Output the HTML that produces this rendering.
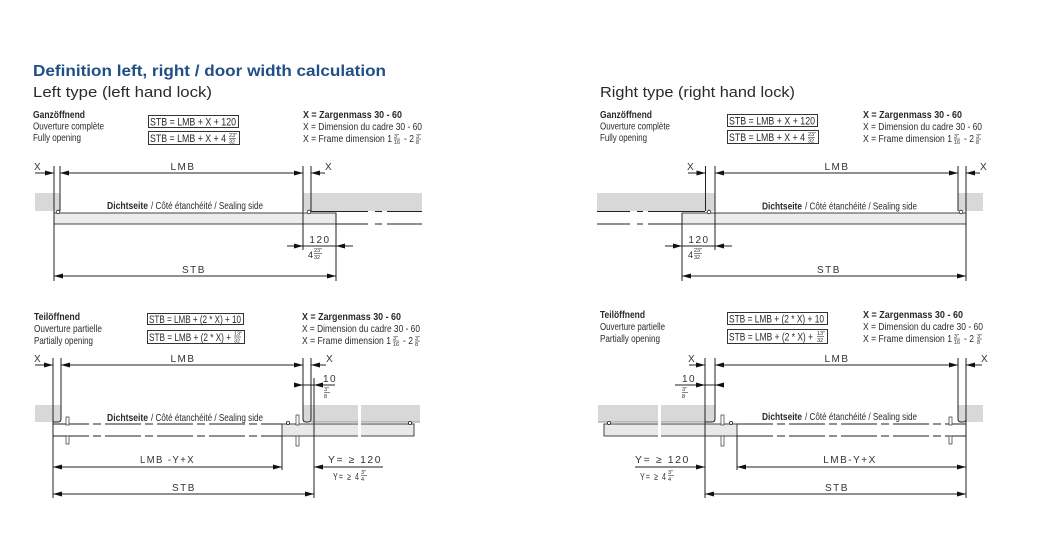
<!DOCTYPE html>
<html><head><meta charset="utf-8"><style>
html,body{margin:0;padding:0;background:#fff;}
svg{display:block;}
text{font-family:"Liberation Sans",Arial,sans-serif;fill:#2a2a2a;}
.s{font-size:10.5px;}
.b{font-weight:bold;}
.f{font-size:11px;}
.d{font-size:10px;letter-spacing:1.5px;fill:#333;}
.fr{font-size:5.5px;}
.ln line,.ln path,.ln polyline{stroke:#222;stroke-width:1;fill:none;}
.ar polygon{fill:#111;stroke:none;}
</style></head><body>
<svg width="1042" height="543" viewBox="0 0 1042 543" xmlns="http://www.w3.org/2000/svg">
<rect width="1042" height="543" fill="#fff"/>

<!-- ===== Headings ===== -->
<text x="33" y="76" font-size="16" font-weight="bold" style="fill:#1f4f86" textLength="353" lengthAdjust="spacingAndGlyphs">Definition left, right / door width calculation</text>
<text x="33" y="97" font-size="15" textLength="179" lengthAdjust="spacingAndGlyphs">Left type (left hand lock)</text>
<text x="600" y="97" font-size="15" textLength="195" lengthAdjust="spacingAndGlyphs">Right type (right hand lock)</text>

<!-- ===== TOP LEFT texts ===== -->
<text class="s b" x="33" y="118" textLength="52" lengthAdjust="spacingAndGlyphs">Ganzöffnend</text>
<text class="s" x="33" y="129.5" textLength="71" lengthAdjust="spacingAndGlyphs">Ouverture complète</text>
<text class="s" x="33" y="141" textLength="48" lengthAdjust="spacingAndGlyphs">Fully opening</text>
<rect x="148.5" y="115.5" width="90" height="12" fill="none" stroke="#333"/>
<text class="f" x="150" y="125.5" textLength="86" lengthAdjust="spacingAndGlyphs">STB = LMB + X + 120</text>
<rect x="148.5" y="131.5" width="91" height="13" fill="none" stroke="#333"/>
<text class="f" x="150" y="142" textLength="76" lengthAdjust="spacingAndGlyphs">STB = LMB + X + 4</text>
<text class="fr" x="229" y="137">23"</text><line x1="229" y1="138.5" x2="236" y2="138.5" stroke="#333" stroke-width="0.6"/><text class="fr" x="229" y="143.5">32</text>
<text class="s b" x="303" y="118" textLength="99" lengthAdjust="spacingAndGlyphs">X = Zargenmass 30 - 60</text>
<text class="s" x="303" y="130" textLength="119" lengthAdjust="spacingAndGlyphs">X = Dimension du cadre 30 - 60</text>
<text class="s" x="303" y="142" textLength="89" lengthAdjust="spacingAndGlyphs">X = Frame dimension 1</text>
<text class="fr" x="394" y="138">3"</text><line x1="394" y1="139" x2="400" y2="139" stroke="#333" stroke-width="0.6"/><text class="fr" x="394" y="144">16</text>
<text class="s" x="404" y="142" textLength="10" lengthAdjust="spacingAndGlyphs">- 2</text>
<text class="fr" x="416" y="138">3"</text><line x1="416" y1="139" x2="421" y2="139" stroke="#333" stroke-width="0.6"/><text class="fr" x="416" y="144">8</text>

<!-- ===== TOP LEFT diagram ===== -->
<rect x="35" y="193" width="25" height="18" fill="#d8d8d8"/>
<rect x="303" y="193" width="119" height="18" fill="#d8d8d8"/>
<rect x="54" y="213" width="282" height="11" fill="#ececec" stroke="#333" stroke-width="0.9"/>
<g class="ln">
<line x1="35" y1="173" x2="54" y2="173"/>
<line x1="60" y1="173" x2="303" y2="173"/>
<line x1="311" y1="173" x2="325" y2="173"/>
<line x1="54" y1="166" x2="54" y2="281"/>
<line x1="60" y1="166" x2="60" y2="211"/>
<line x1="303" y1="166" x2="303" y2="250"/>
<line x1="311" y1="166" x2="311" y2="211"/>
<line x1="336" y1="213" x2="336" y2="281"/>
<path d="M311 211.5H368M375 211.5H382M387 211.5H422" />
<path d="M336 224H368M375 224H382M387 224H422" />
<line x1="287" y1="246" x2="353" y2="246"/>
<line x1="54" y1="276" x2="336" y2="276"/>
</g>
<circle cx="58" cy="212" r="1.8" fill="#fff" stroke="#222" stroke-width="0.8"/>
<circle cx="309" cy="212" r="1.8" fill="#fff" stroke="#222" stroke-width="0.8"/>
<g class="ar">
<polygon points="54,173 45,170.5 45,175.5"/><polygon points="60,173 69,170.5 69,175.5"/>
<polygon points="303,173 294,170.5 294,175.5"/><polygon points="311,173 320,170.5 320,175.5"/>
<polygon points="303,246 294,243.5 294,248.5"/><polygon points="336,246 345,243.5 345,248.5"/>
<polygon points="54,276 63,273.5 63,278.5"/><polygon points="336,276 327,273.5 327,278.5"/>
</g>
<text class="d" x="34" y="170">X</text>
<text class="d" x="325" y="170">X</text>
<text class="d" x="183" y="170" text-anchor="middle">LMB</text>
<text class="s b" x="107" y="209" textLength="41" lengthAdjust="spacingAndGlyphs">Dichtseite</text>
<text class="s" x="151" y="209" textLength="112" lengthAdjust="spacingAndGlyphs">/ Côté étanchéité / Sealing side</text>
<text class="d" x="320" y="243" text-anchor="middle">120</text>
<text font-size="9" x="308" y="258">4</text><text class="fr" x="314" y="252">23"</text><line x1="314" y1="253.5" x2="322" y2="253.5" stroke="#333" stroke-width="0.6"/><text class="fr" x="314" y="259">32</text>
<text class="d" x="194" y="273" text-anchor="middle">STB</text>

<!-- ===== TOP RIGHT texts ===== -->
<text class="s b" x="600" y="118" textLength="52" lengthAdjust="spacingAndGlyphs">Ganzöffnend</text>
<text class="s" x="600" y="129.5" textLength="70" lengthAdjust="spacingAndGlyphs">Ouverture complète</text>
<text class="s" x="600" y="141" textLength="47" lengthAdjust="spacingAndGlyphs">Fully opening</text>
<rect x="727.5" y="114.5" width="90" height="12" fill="none" stroke="#333"/>
<text class="f" x="729" y="124.5" textLength="86" lengthAdjust="spacingAndGlyphs">STB = LMB + X + 120</text>
<rect x="727.5" y="130.5" width="91" height="13" fill="none" stroke="#333"/>
<text class="f" x="729" y="141" textLength="76" lengthAdjust="spacingAndGlyphs">STB = LMB + X + 4</text>
<text class="fr" x="808" y="136">23"</text><line x1="808" y1="137.5" x2="815" y2="137.5" stroke="#333" stroke-width="0.6"/><text class="fr" x="808" y="142.5">32</text>
<text class="s b" x="863" y="118" textLength="99" lengthAdjust="spacingAndGlyphs">X = Zargenmass 30 - 60</text>
<text class="s" x="863" y="130" textLength="119" lengthAdjust="spacingAndGlyphs">X = Dimension du cadre 30 - 60</text>
<text class="s" x="863" y="142" textLength="89" lengthAdjust="spacingAndGlyphs">X = Frame dimension 1</text>
<text class="fr" x="954" y="138">3"</text><line x1="954" y1="139" x2="960" y2="139" stroke="#333" stroke-width="0.6"/><text class="fr" x="954" y="144">16</text>
<text class="s" x="964" y="142" textLength="10" lengthAdjust="spacingAndGlyphs">- 2</text>
<text class="fr" x="976" y="138">3"</text><line x1="976" y1="139" x2="981" y2="139" stroke="#333" stroke-width="0.6"/><text class="fr" x="976" y="144">8</text>

<!-- ===== TOP RIGHT diagram ===== -->
<rect x="597" y="193" width="118" height="18" fill="#d8d8d8"/>
<rect x="958" y="193" width="25" height="18" fill="#d8d8d8"/>
<rect x="682" y="213" width="284" height="11" fill="#ececec" stroke="#333" stroke-width="0.9"/>
<g class="ln">
<line x1="688" y1="173" x2="705.5" y2="173"/>
<line x1="715" y1="173" x2="958" y2="173"/>
<line x1="966" y1="173" x2="980" y2="173"/>
<line x1="705.5" y1="166" x2="705.5" y2="211"/>
<line x1="715" y1="166" x2="715" y2="250"/>
<line x1="958" y1="166" x2="958" y2="211"/>
<line x1="966" y1="166" x2="966" y2="281"/>
<line x1="682" y1="213" x2="682" y2="281"/>
<path d="M597 211.5H630M637 211.5H643M648 211.5H705" />
<path d="M597 224H630M637 224H643M648 224H682" />
<line x1="665" y1="246" x2="732" y2="246"/>
<line x1="682" y1="276" x2="966" y2="276"/>
</g>
<circle cx="709" cy="212" r="1.8" fill="#fff" stroke="#222" stroke-width="0.8"/>
<circle cx="961" cy="212" r="1.8" fill="#fff" stroke="#222" stroke-width="0.8"/>
<g class="ar">
<polygon points="705.5,173 696.5,170.5 696.5,175.5"/><polygon points="715,173 724,170.5 724,175.5"/>
<polygon points="958,173 949,170.5 949,175.5"/><polygon points="966,173 975,170.5 975,175.5"/>
<polygon points="682,246 673,243.5 673,248.5"/><polygon points="715,246 724,243.5 724,248.5"/>
<polygon points="682,276 691,273.5 691,278.5"/><polygon points="966,276 957,273.5 957,278.5"/>
</g>
<text class="d" x="687" y="170">X</text>
<text class="d" x="980" y="170">X</text>
<text class="d" x="837" y="170" text-anchor="middle">LMB</text>
<text class="s b" x="762" y="209.5" textLength="40" lengthAdjust="spacingAndGlyphs">Dichtseite</text>
<text class="s" x="805" y="209.5" textLength="112" lengthAdjust="spacingAndGlyphs">/ Côté étanchéité / Sealing side</text>
<text class="d" x="699" y="243" text-anchor="middle">120</text>
<text font-size="9" x="688" y="258">4</text><text class="fr" x="694" y="252">23"</text><line x1="694" y1="253.5" x2="702" y2="253.5" stroke="#333" stroke-width="0.6"/><text class="fr" x="694" y="259">32</text>
<text class="d" x="829" y="273" text-anchor="middle">STB</text>

<!-- ===== BOTTOM LEFT texts ===== -->
<text class="s b" x="34" y="320" textLength="46" lengthAdjust="spacingAndGlyphs">Teilöffnend</text>
<text class="s" x="34" y="332" textLength="68" lengthAdjust="spacingAndGlyphs">Ouverture partielle</text>
<text class="s" x="34" y="344" textLength="59" lengthAdjust="spacingAndGlyphs">Partially opening</text>
<rect x="147.5" y="313.5" width="96" height="11" fill="none" stroke="#333"/>
<text class="f" x="149" y="323" textLength="92" lengthAdjust="spacingAndGlyphs">STB = LMB + (2 * X) + 10</text>
<rect x="147.5" y="330.5" width="97" height="13" fill="none" stroke="#333"/>
<text class="f" x="149" y="341" textLength="82" lengthAdjust="spacingAndGlyphs">STB = LMB + (2 * X) +</text>
<text class="fr" x="234" y="335.5">13"</text><line x1="234" y1="337" x2="241" y2="337" stroke="#333" stroke-width="0.6"/><text class="fr" x="234" y="342.5">32</text>
<text class="s b" x="302" y="320" textLength="99" lengthAdjust="spacingAndGlyphs">X = Zargenmass 30 - 60</text>
<text class="s" x="302" y="332" textLength="118" lengthAdjust="spacingAndGlyphs">X = Dimension du cadre 30 - 60</text>
<text class="s" x="302" y="344" textLength="89" lengthAdjust="spacingAndGlyphs">X = Frame dimension 1</text>
<text class="fr" x="393" y="340">3"</text><line x1="393" y1="341" x2="399" y2="341" stroke="#333" stroke-width="0.6"/><text class="fr" x="393" y="346">16</text>
<text class="s" x="403" y="344" textLength="10" lengthAdjust="spacingAndGlyphs">- 2</text>
<text class="fr" x="415" y="340">3"</text><line x1="415" y1="341" x2="420" y2="341" stroke="#333" stroke-width="0.6"/><text class="fr" x="415" y="346">8</text>

<!-- ===== BOTTOM LEFT diagram ===== -->
<rect x="35" y="405" width="26" height="17" fill="#d8d8d8"/>
<rect x="303" y="405" width="55" height="17" fill="#d8d8d8"/>
<rect x="361" y="405" width="59" height="17" fill="#d8d8d8"/>
<line x1="311" y1="422" x2="420" y2="422" stroke="#999" stroke-width="1"/>
<rect x="282" y="424" width="132" height="12" fill="#e9e9e9" stroke="#333" stroke-width="0.9"/>
<rect x="358" y="403" width="3" height="40" fill="#fff"/>
<g class="ln">
<line x1="35" y1="365" x2="53" y2="365"/>
<line x1="61" y1="365" x2="303" y2="365"/>
<line x1="311" y1="365" x2="326" y2="365"/>
<path d="M53 358V498"/>
<path d="M61 358V419Q61 422 58 422H53"/>
<path d="M303 358V419Q303 422 306 422H308Q311 422 311 419V358"/>
<line x1="314" y1="378" x2="314" y2="498"/>
<line x1="295" y1="385" x2="335" y2="385"/>
<line x1="53" y1="424" x2="282" y2="424" stroke-dasharray="36 4 8 4"/>
<line x1="53" y1="436" x2="282" y2="436" stroke-dasharray="36 4 8 4"/>
<line x1="282" y1="436" x2="282" y2="470"/>
<line x1="53" y1="467" x2="282" y2="467"/>
<line x1="314" y1="467" x2="383" y2="467"/>
<line x1="53" y1="494" x2="314" y2="494"/>
</g>
<rect x="66" y="417" width="3" height="8" fill="#fff" stroke="#333" stroke-width="0.7"/>
<rect x="66" y="436" width="3" height="8" fill="#fff" stroke="#333" stroke-width="0.7"/>
<rect x="296" y="415" width="3" height="10" fill="#fff" stroke="#333" stroke-width="0.7"/>
<rect x="296" y="436" width="3" height="10" fill="#fff" stroke="#333" stroke-width="0.7"/>
<circle cx="288" cy="423" r="1.6" fill="#fff" stroke="#222" stroke-width="0.8"/>
<circle cx="410" cy="423" r="1.6" fill="#fff" stroke="#222" stroke-width="0.8"/>
<g class="ar">
<polygon points="53,365 44,362.5 44,367.5"/><polygon points="61,365 70,362.5 70,367.5"/>
<polygon points="303,365 294,362.5 294,367.5"/><polygon points="311,365 320,362.5 320,367.5"/>
<polygon points="303,385 294,382.5 294,387.5"/><polygon points="314,385 323,382.5 323,387.5"/>
<polygon points="53,467 62,464.5 62,469.5"/><polygon points="282,467 273,464.5 273,469.5"/>
<polygon points="314,467 323,464.5 323,469.5"/>
<polygon points="53,494 62,491.5 62,496.5"/><polygon points="314,494 305,491.5 305,496.5"/>
</g>
<text class="d" x="34" y="362">X</text>
<text class="d" x="326" y="362">X</text>
<text class="d" x="183" y="362" text-anchor="middle">LMB</text>
<text class="d" x="323" y="382">10</text>
<text class="fr" x="324" y="391">3"</text><line x1="324" y1="392.5" x2="330" y2="392.5" stroke="#333" stroke-width="0.6"/><text class="fr" x="324" y="398">8</text>
<text class="s b" x="107" y="421" textLength="41" lengthAdjust="spacingAndGlyphs">Dichtseite</text>
<text class="s" x="151" y="421" textLength="112" lengthAdjust="spacingAndGlyphs">/ Côté étanchéité / Sealing side</text>
<text class="d" x="140" y="463" textLength="55" lengthAdjust="spacingAndGlyphs">LMB -Y+X</text>
<text class="d" x="328" y="463" textLength="54" lengthAdjust="spacingAndGlyphs">Y=  ≥ 120</text>
<text class="d" x="333" y="480" textLength="27" lengthAdjust="spacingAndGlyphs">Y=  ≥ 4</text>
<text class="fr" x="361" y="474">3"</text><line x1="361" y1="475.5" x2="367" y2="475.5" stroke="#333" stroke-width="0.6"/><text class="fr" x="361" y="481">4</text>
<text class="d" x="184" y="491" text-anchor="middle">STB</text>

<!-- ===== BOTTOM RIGHT texts ===== -->
<text class="s b" x="600" y="318" textLength="45" lengthAdjust="spacingAndGlyphs">Teilöffnend</text>
<text class="s" x="600" y="330" textLength="65" lengthAdjust="spacingAndGlyphs">Ouverture partielle</text>
<text class="s" x="600" y="342" textLength="60" lengthAdjust="spacingAndGlyphs">Partially opening</text>
<rect x="727.5" y="312.5" width="100" height="12" fill="none" stroke="#333"/>
<text class="f" x="729" y="322.5" textLength="95" lengthAdjust="spacingAndGlyphs">STB = LMB + (2 * X) + 10</text>
<rect x="727.5" y="329.5" width="100" height="14" fill="none" stroke="#333"/>
<text class="f" x="729" y="340.5" textLength="84" lengthAdjust="spacingAndGlyphs">STB = LMB + (2 * X) +</text>
<text class="fr" x="817" y="335">13"</text><line x1="817" y1="336.5" x2="824" y2="336.5" stroke="#333" stroke-width="0.6"/><text class="fr" x="817" y="342">32</text>
<text class="s b" x="863" y="318" textLength="100" lengthAdjust="spacingAndGlyphs">X = Zargenmass 30 - 60</text>
<text class="s" x="863" y="330" textLength="120" lengthAdjust="spacingAndGlyphs">X = Dimension du cadre 30 - 60</text>
<text class="s" x="863" y="342" textLength="89" lengthAdjust="spacingAndGlyphs">X = Frame dimension 1</text>
<text class="fr" x="954" y="338">3"</text><line x1="954" y1="339" x2="960" y2="339" stroke="#333" stroke-width="0.6"/><text class="fr" x="954" y="344">16</text>
<text class="s" x="964" y="342" textLength="10" lengthAdjust="spacingAndGlyphs">- 2</text>
<text class="fr" x="977" y="338">3"</text><line x1="977" y1="339" x2="982" y2="339" stroke="#333" stroke-width="0.6"/><text class="fr" x="977" y="344">8</text>

<!-- ===== BOTTOM RIGHT diagram ===== -->
<rect x="598" y="405" width="60" height="17" fill="#d8d8d8"/>
<rect x="661" y="405" width="54" height="17" fill="#d8d8d8"/>
<rect x="958" y="405" width="25" height="17" fill="#d8d8d8"/>
<line x1="598" y1="422" x2="705" y2="422" stroke="#999" stroke-width="1"/>
<rect x="604" y="424" width="133" height="12" fill="#e9e9e9" stroke="#333" stroke-width="0.9"/>
<rect x="658" y="403" width="3" height="40" fill="#fff"/>
<g class="ln">
<line x1="689" y1="365" x2="705" y2="365"/>
<line x1="715" y1="365" x2="958" y2="365"/>
<line x1="966" y1="365" x2="982" y2="365"/>
<path d="M705 358V498"/>
<path d="M705 422H712Q715 422 715 419V358"/>
<path d="M958 358V419Q958 422 961 422H963Q966 422 966 419V358"/>
<line x1="966" y1="419" x2="966" y2="498"/>
<line x1="675" y1="385" x2="723" y2="385"/>
<line x1="737" y1="424" x2="966" y2="424" stroke-dasharray="36 4 8 4"/>
<line x1="737" y1="436" x2="966" y2="436" stroke-dasharray="36 4 8 4"/>
<line x1="737" y1="436" x2="737" y2="470"/>
<line x1="635" y1="467" x2="705" y2="467"/>
<line x1="737" y1="467" x2="966" y2="467"/>
<line x1="705" y1="494" x2="966" y2="494"/>
</g>
<rect x="721" y="415" width="3" height="10" fill="#fff" stroke="#333" stroke-width="0.7"/>
<rect x="721" y="436" width="3" height="10" fill="#fff" stroke="#333" stroke-width="0.7"/>
<rect x="949" y="417" width="3" height="8" fill="#fff" stroke="#333" stroke-width="0.7"/>
<rect x="949" y="436" width="3" height="8" fill="#fff" stroke="#333" stroke-width="0.7"/>
<circle cx="609" cy="423" r="1.6" fill="#fff" stroke="#222" stroke-width="0.8"/>
<circle cx="731" cy="423" r="1.6" fill="#fff" stroke="#222" stroke-width="0.8"/>
<g class="ar">
<polygon points="705,365 696,362.5 696,367.5"/><polygon points="715,365 724,362.5 724,367.5"/>
<polygon points="958,365 949,362.5 949,367.5"/><polygon points="966,365 975,362.5 975,367.5"/>
<polygon points="705,385 696,382.5 696,387.5"/><polygon points="715,385 724,382.5 724,387.5"/>
<polygon points="705,467 696,464.5 696,469.5"/>
<polygon points="737,467 746,464.5 746,469.5"/><polygon points="966,467 957,464.5 957,469.5"/>
<polygon points="705,494 714,491.5 714,496.5"/><polygon points="966,494 957,491.5 957,496.5"/>
</g>
<text class="d" x="688" y="362">X</text>
<text class="d" x="981" y="362">X</text>
<text class="d" x="837" y="362" text-anchor="middle">LMB</text>
<text class="d" x="682" y="382">10</text>
<text class="fr" x="682" y="391">3"</text><line x1="682" y1="392.5" x2="688" y2="392.5" stroke="#333" stroke-width="0.6"/><text class="fr" x="682" y="398">8</text>
<text class="s b" x="762" y="420" textLength="40" lengthAdjust="spacingAndGlyphs">Dichtseite</text>
<text class="s" x="805" y="420" textLength="112" lengthAdjust="spacingAndGlyphs">/ Côté étanchéité / Sealing side</text>
<text class="d" x="635" y="463" textLength="55" lengthAdjust="spacingAndGlyphs">Y=  ≥ 120</text>
<text class="d" x="640" y="480" textLength="27" lengthAdjust="spacingAndGlyphs">Y=  ≥ 4</text>
<text class="fr" x="668" y="474">3"</text><line x1="668" y1="475.5" x2="674" y2="475.5" stroke="#333" stroke-width="0.6"/><text class="fr" x="668" y="481">4</text>
<text class="d" x="850" y="463" text-anchor="middle">LMB-Y+X</text>
<text class="d" x="837" y="491" text-anchor="middle">STB</text>
</svg>
</body></html>
